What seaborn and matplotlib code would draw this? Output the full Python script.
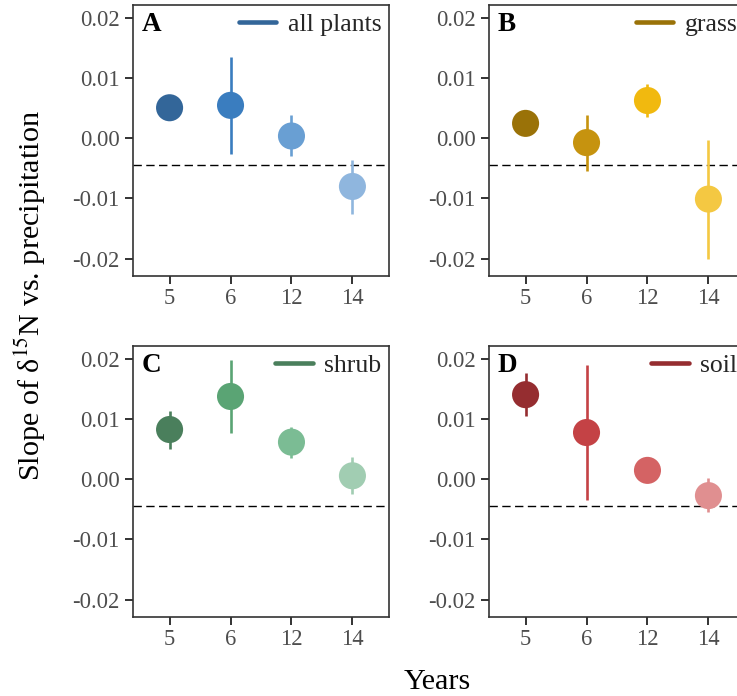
import matplotlib
matplotlib.use("Agg")
import matplotlib.pyplot as plt
from matplotlib.lines import Line2D
import seaborn as sns
import pandas as pd
import numpy as np

# ---------------- data ----------------
years = ["5", "6", "12", "14"]

plants_slope = [0.0051, 0.0055, 0.0004, -0.0080]
plants_lo = [0.0040, -0.0026, -0.0030, -0.0125]
plants_hi = [0.0062, 0.0136, 0.0039, -0.0036]

grass_slope = [0.0025, -0.0007, 0.0063, -0.0101]
grass_lo = [0.0015, -0.0054, 0.0036, -0.0200]
grass_hi = [0.0035, 0.0039, 0.0090, -0.0003]

shrub_slope = [0.0083, 0.0138, 0.0062, 0.0006]
shrub_lo = [0.0051, 0.0077, 0.0035, -0.0025]
shrub_hi = [0.0114, 0.0198, 0.0088, 0.0037]

soil_slope = [0.0141, 0.0078, 0.0015, -0.0027]
soil_lo = [0.0105, -0.0035, 0.0005, -0.0055]
soil_hi = [0.0177, 0.0191, 0.0025, 0.0003]

reference_line = -0.0044

panel_letters = ["A", "B", "C", "D"]
panel_names = ["all plants", "grass", "shrub", "soil"]
palettes = [
    ["#336699", "#3a7dbf", "#699fd3", "#8fb6de"],
    ["#9a7208", "#c6930f", "#f1b90f", "#f4c842"],
    ["#4a7f5c", "#5aa474", "#7bbc94", "#a1cdb2"],
    ["#952d30", "#c44245", "#d46364", "#e08f90"],
]
yticks = [-0.02, -0.01, 0.00, 0.01, 0.02]
ytick_labels = ["-0.02", "-0.01", "0.00", "0.01", "0.02"]

series = [
    (plants_slope, plants_lo, plants_hi),
    (grass_slope, grass_lo, grass_hi),
    (shrub_slope, shrub_lo, shrub_hi),
    (soil_slope, soil_lo, soil_hi),
]

# ---------------- style ----------------
sns.set_theme(style="white")
plt.rcParams["font.family"] = ["Liberation Serif", "DejaVu Serif"]
plt.rcParams["mathtext.fontset"] = "stix"
plt.rcParams["lines.scale_dashes"] = False

W, H = 737, 696
fig = plt.figure(figsize=(W / 100, H / 100), dpi=100)

# panel pixel boxes: left, right, top, bottom
boxes = [
    (133, 389, 5, 276),
    (489, 745, 5, 276),
    (133, 389, 346, 617),
    (489, 745, 346, 617),
]

tick_col = "#4d4d4d"
frame_col = "#333333"

for i, (l, r, t, b) in enumerate(boxes):
    ax = fig.add_axes([l / W, (H - b) / H, (r - l) / W, (b - t) / H])
    slope, lo, hi = series[i]
    pal = palettes[i]
    df = pd.DataFrame({"year": years, "slope": slope, "lo": lo, "hi": hi})
    xs = np.arange(len(years))

    ax.axhline(reference_line, color="black", lw=1.0, ls=(0, (6.0, 3.2)), zorder=1)
    ax.vlines(xs, df["lo"], df["hi"], colors=pal, lw=1.9, zorder=2)
    sns.scatterplot(data=df, x="year", y="slope", hue="year", palette=pal,
                    s=380, edgecolor="none", linewidth=0, legend=False,
                    ax=ax, zorder=3)

    ax.set_xlim(-0.6, 3.6)
    ax.set_ylim(-0.0229, 0.0222)
    ax.set_yticks(yticks)
    ax.set_yticklabels(ytick_labels)
    ax.set_xticks(xs)
    ax.set_xticklabels(years)
    ax.set_xlabel("")
    ax.set_ylabel("")
    ax.tick_params(axis="both", which="major", length=5.8, width=1.4,
                   color=frame_col, labelcolor=tick_col, labelsize=16.3,
                   direction="out", bottom=True, left=True)
    ax.tick_params(axis="y", pad=4.0)
    ax.tick_params(axis="x", pad=3.0)
    for sp in ax.spines.values():
        sp.set_color(frame_col)
        sp.set_linewidth(1.2)

    ax.text(0.035, 0.975, panel_letters[i], transform=ax.transAxes,
            ha="left", va="top", fontsize=19.5, fontweight="bold", color="black")

    handle = Line2D([0], [0], color=pal[0], lw=3.3)
    ax.legend([handle], [panel_names[i]], loc="upper right", frameon=False,
              fontsize=18.5, handlelength=1.45, handletextpad=0.45,
              borderaxespad=0.1, borderpad=0.2)

fig.text(30 / W, 1 - 296 / H, r"Slope of δ$^{15}$N vs. precipitation",
         rotation=90, ha="center", va="center", fontsize=21.7, color="black")
fig.text(437 / W, 1 - 682 / H, "Years", ha="center", va="center",
         fontsize=21.7, color="black")

fig.savefig("out.png", dpi=100)
